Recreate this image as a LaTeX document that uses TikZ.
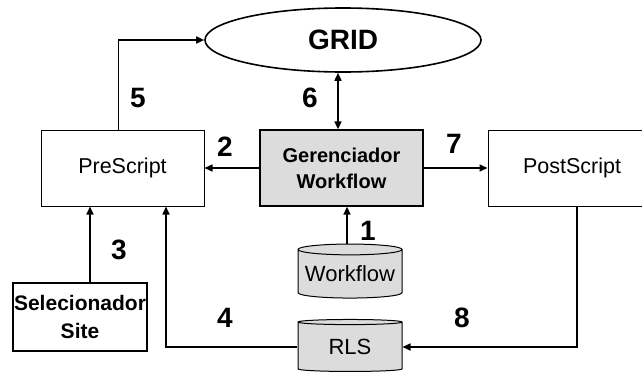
\documentclass[tikz,border=0pt]{standalone}
\usepackage{fontspec}
\setmainfont{Liberation Sans}
\usetikzlibrary{shapes.geometric,arrows.meta}
\definecolor{boxgray}{HTML}{DCDCDC}
\tikzset{
  proc/.style={draw, line width=1pt, minimum width=163pt, minimum height=76pt,
    inner sep=0pt, align=center, font=\fontsize{21.5}{26}\selectfont},
  db/.style={cylinder, shape border rotate=90, aspect=0.12, draw, line width=1pt,
    fill=boxgray, minimum width=104pt, inner sep=0pt,
    font=\fontsize{22}{24}\selectfont},
  flow/.style={line width=1.6pt, -{Triangle[length=8pt,width=7pt]}},
  flowboth/.style={line width=1.6pt, {Triangle[length=8pt,width=7pt]}-{Triangle[length=8pt,width=7pt]}},
  num/.style={font=\bfseries\fontsize{28}{30}\selectfont, inner sep=0pt},
}
\begin{document}
\begin{tikzpicture}[x=1pt,y=-1pt]
\useasboundingbox (0,0) rectangle (642,378);

% main components
\node[ellipse, draw, line width=1.6pt, minimum width=276pt, minimum height=64pt,
  inner sep=0pt, font=\bfseries\fontsize{28}{30}\selectfont] (grid) at (343,40) {GRID};
\node[proc] (pre) at (122.5,168) {PreScript};
\node[proc, fill=boxgray, line width=1.3pt, font=\bfseries\fontsize{20}{26}\selectfont]
  (ger) at (341.5,168) {Gerenciador\\Workflow};
\node[proc, minimum width=168pt] (post) at (572,168) {PostScript};
\node[draw, line width=2pt, minimum width=134pt, minimum height=68pt, inner sep=0pt,
  align=center, font=\bfseries\fontsize{21}{28}\selectfont] (sel) at (80,317)
  {Selecionador\\Site};

% data stores
\node[db, minimum height=54pt] (wf) at (350,274) {Workflow};
\node[db, minimum height=52pt] (rls) at (350,347) {RLS};

% connectors
\draw[flow] ([xshift=-4pt]pre.north) |- (grid.west);
\draw[flowboth] ([xshift=-5pt]grid.south) -- ([xshift=-5pt]grid.south |- ger.north);
\draw[flow] (ger.west) -- (pre.east);
\draw[flow] (ger.east) -- (post.west);
\draw[flow] ([xshift=-3pt]wf.north) -- ([xshift=-3pt]wf.north |- ger.south);
\draw[flow] ([xshift=10pt]sel.north) -- ([xshift=10pt]sel.north |- pre.south);
\draw[flow] (rls.west) -| ([xshift=43.5pt]pre.south);
\draw[flow] ([xshift=5pt]post.south) |- (rls.east);

% step numbers
\node[num] (n1) at (368,231) {1};
\node[num] (n2) at (225,147) {2};
\node[num] (n3) at (119,250) {3};
\node[num] (n4) at (225,318) {4};
\node[num] (n5) at (138,98) {5};
\node[num] (n6) at (310,98) {6};
\node[num] (n7) at (454,144) {7};
\node[num] (n8) at (462,318) {8};
\end{tikzpicture}
\end{document}
